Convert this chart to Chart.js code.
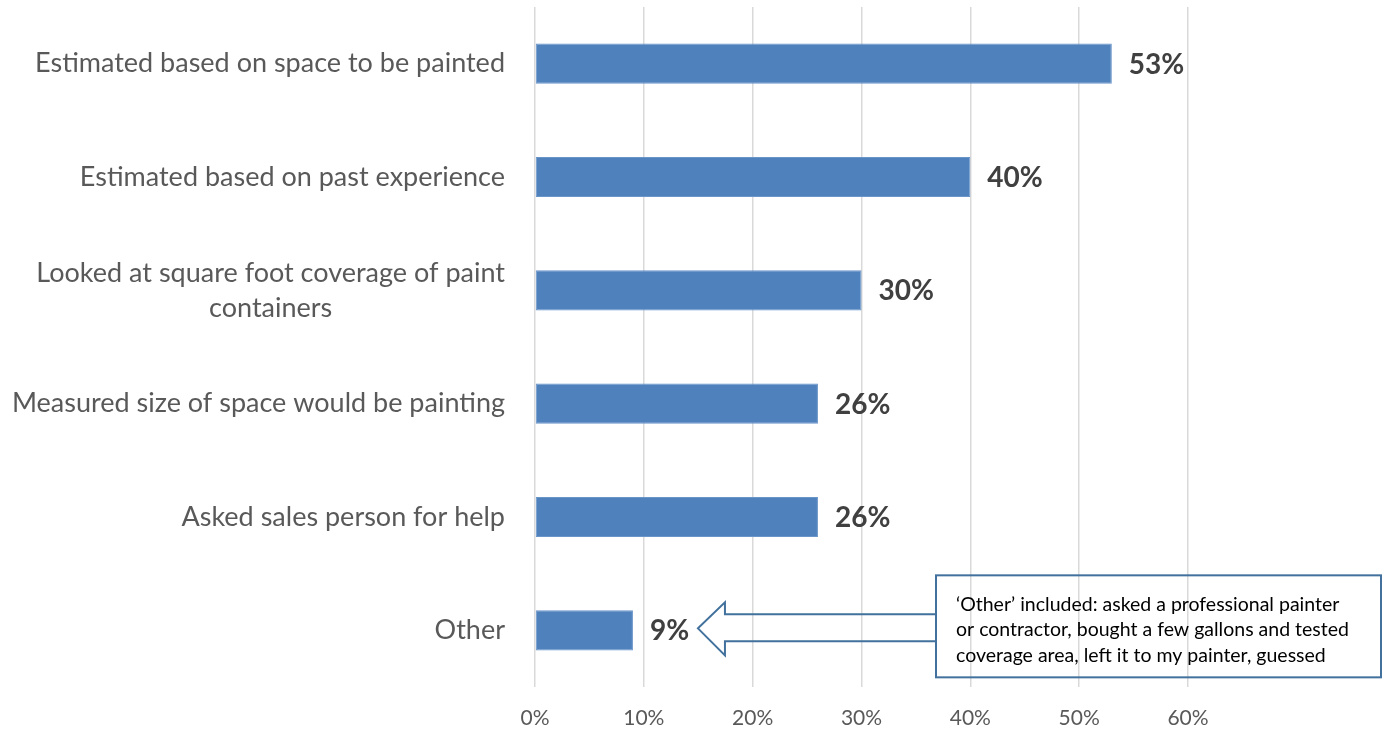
<!DOCTYPE html>
<html>
<head>
<meta charset="utf-8">
<script src="https://cdn.jsdelivr.net/npm/chart.js@4/dist/chart.umd.min.js"></script>
<style>
  html, body { margin: 0; padding: 0; background: #fff; }
  #wrap { width: 1387px; height: 729px; position: relative; }
</style>
</head>
<body>
<div id="wrap"><canvas id="c"></canvas></div>
<script>
const categories = [
  "Estimated based on space to be painted",
  "Estimated based on past experience",
  ["Looked at square foot coverage of paint", "containers"],
  "Measured size of space would be painting",
  "Asked sales person for help",
  "Other",
];
const shares = [0.53, 0.40, 0.30, 0.26, 0.26, 0.09];
const xTicks = [0, 0.1, 0.2, 0.3, 0.4, 0.5, 0.6];
const noteLines = [
  "\u2018Other\u2019 included: asked a professional painter",
  "or contractor, bought a few gallons and tested",
  "coverage area, left it to my painter, guessed",
];

const FONT = "Lato, 'Open Sans', sans-serif";
const GRAY = "#595959";
const pct = v => Math.round(v * 100) + "%";

// category labels: right-aligned block, wrapped lines centred inside it
const catLabels = {
  id: "catLabels",
  afterDraw(chart) {
    const { ctx, chartArea } = chart, y = chart.scales.y;
    ctx.save();
    ctx.font = `27px ${FONT}`;
    ctx.fillStyle = GRAY;
    ctx.textAlign = "center";
    ctx.textBaseline = "middle";
    categories.forEach((c, i) => {
      const lines = Array.isArray(c) ? c : [c];
      const w = Math.max(...lines.map(l => ctx.measureText(l).width));
      const cx = chartArea.left - 30 - w / 2, cy = y.getPixelForValue(i);
      const lh = 35, top = cy - (lines.length - 1) * lh / 2;
      lines.forEach((l, k) => ctx.fillText(l, cx, top + k * lh));
    });
    ctx.restore();
  },
};

// bold value labels after each bar
const valueLabels = {
  id: "valueLabels",
  afterDatasetsDraw(chart) {
    const { ctx } = chart, meta = chart.getDatasetMeta(0);
    ctx.save();
    ctx.font = `bold 28px ${FONT}`;
    ctx.fillStyle = "#404040";
    ctx.textAlign = "left";
    ctx.textBaseline = "middle";
    meta.data.forEach((bar, i) => ctx.fillText(pct(shares[i]), bar.x + 17, bar.y + 1));
    ctx.restore();
  },
};

// outlined callout arrow pointing at the "Other" bar, plus its text box
const callout = {
  id: "callout",
  afterDraw(chart) {
    const { ctx } = chart, y = chart.scales.y;
    const meta = chart.getDatasetMeta(0), last = meta.data[shares.length - 1];
    const tipX = last.x + 65, cy = y.getPixelForValue(shares.length - 1) - 2;
    const boxL = 936, boxR = 1381, boxT = cy - 53, boxB = cy + 49;
    ctx.save();
    ctx.strokeStyle = "#41719C";
    ctx.lineWidth = 2;
    ctx.beginPath();
    ctx.moveTo(boxL, cy - 14);
    ctx.lineTo(tipX + 27, cy - 14);
    ctx.lineTo(tipX + 27, cy - 26);
    ctx.lineTo(tipX, cy);
    ctx.lineTo(tipX + 27, cy + 27);
    ctx.lineTo(tipX + 27, cy + 13);
    ctx.lineTo(boxL, cy + 13);
    ctx.stroke();
    ctx.strokeRect(boxL, boxT, boxR - boxL, boxB - boxT);
    ctx.font = `19.5px ${FONT}`;
    ctx.fillStyle = "#000";
    ctx.textAlign = "left";
    ctx.textBaseline = "middle";
    noteLines.forEach((l, k) => ctx.fillText(l, boxL + 20, boxT + 29 + k * 25.5));
    ctx.restore();
  },
};

new Chart(document.getElementById("c"), {
  type: "bar",
  data: {
    labels: categories,
    datasets: [{
      data: shares,
      backgroundColor: "#4F81BD",
      borderColor: "#6A95C9",
      borderWidth: 1,
      borderSkipped: false,
      categoryPercentage: 1,
      barPercentage: 0.355,
    }],
  },
  options: {
    indexAxis: "y",
    responsive: true,
    maintainAspectRatio: false,
    animation: false,
    layout: { padding: { left: 535, right: 199, top: 7, bottom: 0 } },
    scales: {
      x: {
        min: 0, max: 0.6,
        afterBuildTicks: s => { s.ticks = xTicks.map(v => ({ value: v })); },
        afterFit: s => { s.height = 42; },
        border: { display: false },
        grid: { color: "#D9D9D9", lineWidth: 1.5, drawTicks: false },
        ticks: { color: GRAY, padding: 19, font: { family: FONT, size: 21 }, callback: v => pct(v) },
      },
      y: {
        afterFit: s => { s.width = 0; },
        border: { display: false },
        grid: { display: false },
        ticks: { display: false },
      },
    },
    plugins: { legend: { display: false }, tooltip: { enabled: false } },
  },
  plugins: [catLabels, valueLabels, callout],
});
</script>
</body>
</html>
